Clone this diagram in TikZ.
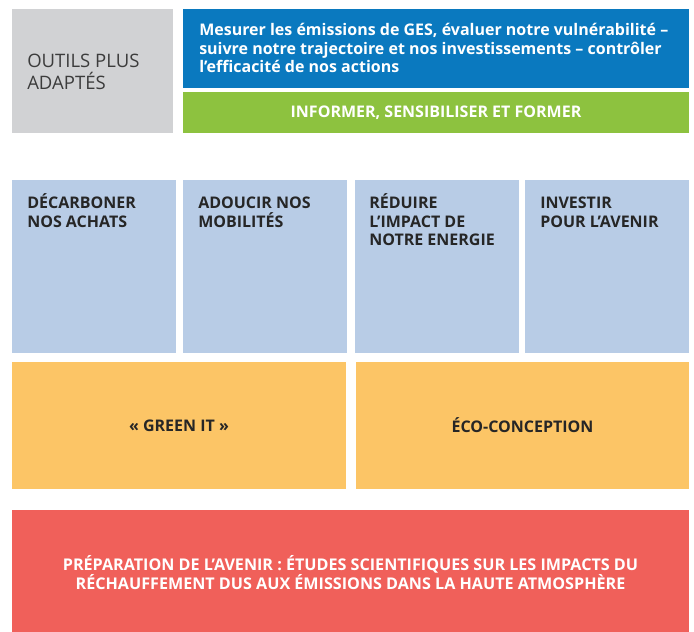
\documentclass[tikz,border=0pt]{standalone}
\usepackage{fontspec}
\setmainfont{Open Sans}
\definecolor{cgray}{HTML}{D1D2D4}
\definecolor{cblue}{HTML}{0A79BF}
\definecolor{cgreen}{HTML}{8DC23F}
\definecolor{clblue}{HTML}{B8CCE6}
\definecolor{corange}{HTML}{FCC566}
\definecolor{cred}{HTML}{F0605A}
\definecolor{ctext}{HTML}{262626}
\newcommand{\topstrut}{\rule{0pt}{13pt}}
\begin{document}
\begin{tikzpicture}[x=0.75pt,y=-0.75pt,
  box/.style={anchor=north west,inner sep=0pt,outer sep=0pt,draw=none},
  bt/.style={font=\fontsize{12}{14}\selectfont\bfseries,text=ctext,align=left,inner sep=0pt,anchor=north west},
  ct/.style={font=\fontsize{12}{14}\selectfont\bfseries,align=center,inner sep=0pt}]
\useasboundingbox (0,0) rectangle (694,632);
% top row
\node[box,fill=cgray,minimum width=161*0.75pt,minimum height=124*0.75pt] (outils) at (12,9) {};
\node[font=\fontsize{13.9}{16.5}\selectfont,text=ctext!90!white,align=left,inner sep=0pt,anchor=north west] (outilst) at (27,54) {OUTILS PLUS\\ADAPTÉS};
\node[box,fill=cblue,minimum width=506*0.75pt,minimum height=79*0.75pt] (mesurer) at (183,9) {};
\node[bt,text=white] (mesurert) at (199,18) {\topstrut Mesurer les émissions de GES, évaluer notre vulnérabilité –\\suivre notre trajectoire et nos investissements – contrôler\\l’efficacité de nos actions};
\node[box,fill=cgreen,minimum width=506*0.75pt,minimum height=41*0.75pt] (informer) at (183,92) {};
\node[ct,text=white] at (informer.center) {INFORMER, SENSIBILISER ET FORMER};
% blue row
\node[box,fill=clblue,minimum width=164*0.75pt,minimum height=173*0.75pt] (b1) at (12,180) {};
\node[box,fill=clblue,minimum width=164*0.75pt,minimum height=173*0.75pt] (b2) at (183,180) {};
\node[box,fill=clblue,minimum width=164*0.75pt,minimum height=173*0.75pt] (b3) at (355,180) {};
\node[box,fill=clblue,minimum width=164*0.75pt,minimum height=173*0.75pt] (b4) at (525,180) {};
\node[bt] (b1t) at (27,191) {\topstrut DÉCARBONER\\NOS ACHATS};
\node[bt] (b2t) at (198,191) {\topstrut ADOUCIR NOS\\MOBILITÉS};
\node[bt] (b3t) at (369,191) {\topstrut RÉDUIRE\\L’IMPACT DE\\NOTRE ENERGIE};
\node[bt] (b4t) at (540,191) {\topstrut INVESTIR\\POUR L’AVENIR};
% orange row
\node[box,fill=corange,minimum width=334*0.75pt,minimum height=127*0.75pt] (green) at (12,362) {};
\node[box,fill=corange,minimum width=333*0.75pt,minimum height=127*0.75pt] (eco) at (356,362) {};
\node[ct,text=ctext] at (green.center) {« GREEN IT »};
\node[ct,text=ctext] at (eco.center) {ÉCO-CONCEPTION};
% red
\node[box,fill=cred,minimum width=677*0.75pt,minimum height=122*0.75pt] (prep) at (12,510) {};
\node[ct,text=white,font=\fontsize{12.1}{14.2}\selectfont\bfseries] at ([yshift=-1.5pt]prep.center) {PRÉPARATION DE L’AVENIR : ÉTUDES SCIENTIFIQUES SUR LES IMPACTS DU\\RÉCHAUFFEMENT DUS AUX ÉMISSIONS DANS LA HAUTE ATMOSPHÈRE};
\end{tikzpicture}
\end{document}
